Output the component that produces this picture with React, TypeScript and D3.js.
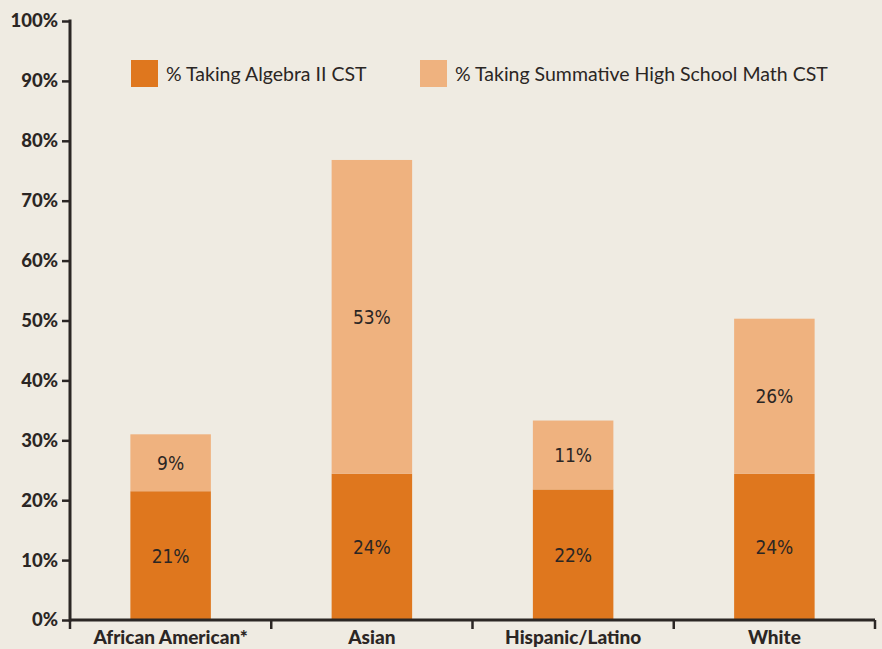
import React, { useEffect, useRef } from 'react';
import * as d3 from 'd3';

const categories = ['African American*', 'Asian', 'Hispanic/Latino', 'White'];
const algebraValues = [21.5, 24.4, 21.8, 24.4];
const summativeValues = [9.5, 52.4, 11.5, 25.9];
const algebraLabels = ['21%', '24%', '22%', '24%'];
const summativeLabels = ['9%', '53%', '11%', '26%'];
const seriesNames = ['% Taking Algebra II CST', '% Taking Summative High School Math CST'];
const yTicks = [0, 10, 20, 30, 40, 50, 60, 70, 80, 90, 100];

const svgWidth = 882;
const svgHeight = 649;
const colors = ['#df771e', '#efb27f'];
const bg = '#efebe2';
const ink = '#2b2624';

const App: React.FC = () => {
  const svgRef = useRef<SVGSVGElement | null>(null);

  useEffect(() => {
    const margin = { top: 21, right: 7, bottom: 29, left: 70 };
    const width = svgWidth - margin.left - margin.right;
    const height = svgHeight - margin.top - margin.bottom;

    const svg = d3.select(svgRef.current);
    svg.selectAll('*').remove();

    svg.append('rect').attr('width', svgWidth).attr('height', svgHeight).attr('fill', bg);

    const x = d3.scaleBand<string>().domain(categories).range([0, width]).paddingInner(0.6).paddingOuter(0.3);
    const y = d3.scaleLinear().domain([0, 100]).range([height, 0]);

    const g = svg.append('g').attr('transform', `translate(${margin.left},${margin.top})`);

    // 堆叠数据
    const rows = categories.map((c, i) => ({ cat: c, a: algebraValues[i], s: summativeValues[i] }));
    const stack = d3.stack<any>().keys(['a', 's'])(rows);

    stack.forEach((layer, li) => {
      g.append('g')
        .selectAll('rect')
        .data(layer)
        .join('rect')
        .attr('x', (d) => x(d.data.cat)!)
        .attr('width', x.bandwidth())
        .attr('y', (d) => y(d[1]))
        .attr('height', (d) => y(d[0]) - y(d[1]))
        .attr('fill', colors[li]);
    });

    // 数值标签
    const labelSets = [algebraLabels, summativeLabels];
    stack.forEach((layer, li) => {
      g.append('g')
        .selectAll('text')
        .data(layer)
        .join('text')
        .attr('x', (d) => x(d.data.cat)! + x.bandwidth() / 2)
        .attr('y', (d) => (y(d[0]) + y(d[1])) / 2 + 7)
        .attr('text-anchor', 'middle')
        .attr('font-family', '"Liberation Sans Narrow", "DejaVu Sans Condensed", sans-serif')
        .attr('font-size', 19)
        .attr('fill', ink)
        .text((_, i) => labelSets[li][i]);
    });

    // Y轴
    const yAxis = g
      .append('g')
      .call(d3.axisLeft(y).tickValues(yTicks).tickSize(8).tickPadding(4).tickFormat((d) => `${d}%`));
    yAxis.select('.domain').attr('stroke', ink).attr('stroke-width', 3).attr('d', `M0,-1.5V${height + 1.5}`);
    yAxis.selectAll('.tick line').attr('stroke', ink).attr('stroke-width', 2.5);
    yAxis
      .selectAll('.tick text')
      .attr('fill', ink)
      .attr('font-family', 'Lato, sans-serif')
      .attr('font-weight', 900)
      .attr('font-size', 18.5);

    // X轴
    const xAxisG = g.append('g').attr('transform', `translate(0,${height})`);
    xAxisG
      .append('line')
      .attr('x1', 0)
      .attr('x2', width)
      .attr('stroke', ink)
      .attr('stroke-width', 3);
    const bounds = d3.range(categories.length + 1).map((i) => (i * width) / categories.length);
    xAxisG
      .selectAll('line.sep')
      .data(bounds)
      .join('line')
      .attr('class', 'sep')
      .attr('x1', (d) => d)
      .attr('x2', (d) => d)
      .attr('y1', 0)
      .attr('y2', 9)
      .attr('stroke', ink)
      .attr('stroke-width', 2.5);
    xAxisG
      .selectAll('text')
      .data(categories)
      .join('text')
      .attr('x', (d) => x(d)! + x.bandwidth() / 2)
      .attr('y', 24)
      .attr('text-anchor', 'middle')
      .attr('font-family', 'Lato, sans-serif')
      .attr('font-weight', 900)
      .attr('font-size', 19)
      .attr('fill', ink)
      .text((d) => d);

    // 图例
    const legendX = [131, 420];
    seriesNames.forEach((name, i) => {
      svg
        .append('rect')
        .attr('x', legendX[i])
        .attr('y', 60)
        .attr('width', 27)
        .attr('height', 27)
        .attr('fill', colors[i]);
      svg
        .append('text')
        .attr('x', legendX[i] + 35)
        .attr('y', 81)
        .attr('font-family', 'Lato, sans-serif')
        .attr('font-size', 19.5)
        .attr('fill', ink)
        .text(name);
    });
  }, []);

  return (
    <svg
      width={svgWidth}
      height={svgHeight}
      ref={svgRef}
      style={{ position: 'absolute', left: 0, top: 0 }}
    ></svg>
  );
};

export default App;
